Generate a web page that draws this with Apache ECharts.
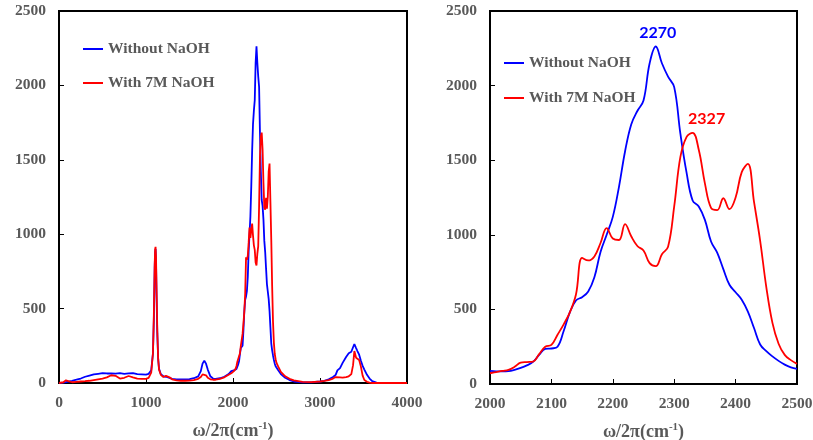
<!DOCTYPE html>
<html><head><meta charset="utf-8">
<script src="https://cdn.jsdelivr.net/npm/echarts@6/dist/echarts.min.js"></script>
<style>html,body{margin:0;padding:0;background:#fff}#c{width:813px;height:440px}</style>
</head><body><div id="c"></div>
<script>
// ---- data ----
const seriesNames = ['Without NaOH', 'With 7M NaOH'];
const peakLabels = ['2270', '2327'];
const xTicksLeft = [0, 1000, 2000, 3000, 4000];
const xTicksRight = [2000, 2100, 2200, 2300, 2400, 2500];
const yTicks = [0, 500, 1000, 1500, 2000, 2500];

const waveLow = [0,50,80,100,150,200,250,300,350,400,450,500,520,550,600,650,700,720,750,800,850,900,950,1000,1030,1060,1080,1090,1100,1105,1110,1115,1120,1130,1140,1150,1170,1200,1230,1250,1270,1300,1350,1400,1450,1500,1550,1600,1630,1650,1670,1690,1710,1740,1770,1800,1850,1900,1950,1980];
const blueLow = [0,3,6,8,15,22,30,42,50,58,62,66,72,64,65,63,66,72,62,64,66,60,58,56,62,85,200,420,780,880,900,820,620,330,160,95,60,45,42,45,35,28,25,24,24,26,32,45,80,130,150,130,90,45,30,28,32,42,60,80];
const redLow  = [0,5,18,6,5,8,10,12,15,20,25,30,32,38,52,48,30,28,35,47,38,30,28,28,35,70,200,450,800,900,915,850,680,350,160,90,55,40,48,58,38,25,18,15,15,16,20,28,40,58,65,52,35,25,22,22,28,38,55,65];

const waveZoom = [2000,2010,2020,2030,2040,2050,2060,2070,2080,2090,2100,2110,2120,2130,2140,2150,2160,2170,2180,2190,2200,2210,2220,2230,2240,2250,2260,2270,2280,2290,2300,2310,2320,2330,2340,2350,2360,2370,2380,2390,2400,2410,2420,2430,2440,2450,2460,2470,2480,2490,2500];
const blueZoom = [88,85,84,86,95,108,125,148,195,235,238,250,355,480,560,582,620,715,885,1000,1120,1320,1560,1740,1830,1900,2150,2262,2150,2060,1990,1680,1420,1230,1190,1100,955,880,770,665,615,565,485,375,265,220,185,155,130,112,102];
const redZoom  = [72,80,88,95,115,143,147,150,200,250,262,330,400,480,600,845,828,855,945,1045,975,965,1072,990,925,895,810,790,870,920,1190,1520,1655,1683,1570,1345,1180,1165,1245,1172,1250,1420,1475,1220,960,650,410,270,195,160,135];

const waveHigh = [2520,2550,2600,2650,2700,2800,2900,3000,3050,3100,3150,3180,3200,3230,3260,3300,3330,3360,3380,3395,3405,3415,3430,3450,3470,3490,3510,3540,3570,3600,3650,3700,3800,3900,4000];
const blueHigh = [85,60,35,20,10,4,4,10,15,25,40,55,85,100,135,175,200,210,240,262,272,235,215,190,150,115,90,55,30,12,3,0,0,0,0];
const redHigh  = [110,75,45,28,18,8,6,10,14,20,30,40,45,38,36,40,45,60,120,215,220,170,165,155,110,50,20,8,3,0,0,0,0,0,0];

// ---- build ----
const pairs = (xs, ys) => xs.map((x, i) => [x, ys[i]]);
const blueFull = pairs(waveLow, blueLow).concat(pairs(waveZoom, blueZoom), pairs(waveHigh, blueHigh));
const redFull = pairs(waveLow, redLow).concat(pairs(waveZoom, redZoom), pairs(waveHigh, redHigh));
const peakOf = (ys) => { let k = 0; ys.forEach((v, i) => { if (v > ys[k]) k = i; }); return [waveZoom[k], ys[k]]; };
const bluePeak = peakOf(blueZoom), redPeak = peakOf(redZoom);

const SERIF = '"Liberation Serif","Times New Roman",serif';
const GREY = '#595959';
const BLUE = '#0000ff', RED = '#ff0000';
const plain = (v) => String(v);

const axisLabel = { color: GREY, fontFamily: SERIF, fontWeight: 'bold', fontSize: 15.5, formatter: plain };
const nameStyle = {
  color: GREY, fontFamily: SERIF, fontWeight: 'bold', fontSize: 18,
  rich: { sup: { color: GREY, fontFamily: SERIF, fontWeight: 'bold', fontSize: 11, verticalAlign: 'top', padding: [0, 0, 9, 0] } }
};
const axisCommon = {
  axisLine: { show: true, onZero: false, lineStyle: { color: '#000', width: 2 } },
  axisTick: { show: true, inside: true, length: 5, lineStyle: { color: '#000', width: 1 } },
  splitLine: { show: false }
};
const legendText = { color: GREY, fontFamily: SERIF, fontWeight: 'bold', fontSize: 15.5, lineHeight: 14 };

const chart = echarts.init(document.getElementById('c'), null, { renderer: 'canvas' });
chart.setOption({
  backgroundColor: '#fff',
  animation: false,
  grid: [
    { left: 59, top: 11, width: 348, height: 372, show: true, borderColor: '#000', borderWidth: 2, containLabel: false, outerBoundsMode: 'none' },
    { left: 490, top: 11, width: 307, height: 373, show: true, borderColor: '#000', borderWidth: 2, containLabel: false, outerBoundsMode: 'none' }
  ],
  legend: [
    { left: 78, top: 36, orient: 'vertical', icon: 'rect', itemWidth: 20, itemHeight: 2, itemGap: 18, data: seriesNames, textStyle: legendText },
    { left: 499, top: 50, orient: 'vertical', icon: 'rect', itemWidth: 20, itemHeight: 2, itemGap: 19, data: seriesNames, textStyle: legendText }
  ],
  xAxis: [
    Object.assign({ gridIndex: 0, type: 'value', min: xTicksLeft[0], max: xTicksLeft[xTicksLeft.length - 1], interval: 1000,
      axisLabel: Object.assign({ margin: 12 }, axisLabel),
      name: 'ω/2π(cm{sup|-1})', nameLocation: 'middle', nameGap: 38, nameTextStyle: nameStyle }, axisCommon),
    Object.assign({ gridIndex: 1, type: 'value', min: xTicksRight[0], max: xTicksRight[xTicksRight.length - 1], interval: 100,
      axisLabel: Object.assign({ margin: 12 }, axisLabel),
      name: 'ω/2π(cm{sup|-1})', nameLocation: 'middle', nameGap: 38, nameTextStyle: nameStyle }, axisCommon)
  ],
  yAxis: [
    Object.assign({ gridIndex: 0, type: 'value', min: yTicks[0], max: yTicks[yTicks.length - 1], interval: 500,
      axisLabel: Object.assign({ margin: 13 }, axisLabel) }, axisCommon),
    Object.assign({ gridIndex: 1, type: 'value', min: yTicks[0], max: yTicks[yTicks.length - 1], interval: 500,
      axisLabel: Object.assign({ margin: 13 }, axisLabel) }, axisCommon)
  ],
  series: [
    { name: seriesNames[0], type: 'line', xAxisIndex: 0, yAxisIndex: 0, data: blueFull, showSymbol: false, symbol: 'none',
      lineStyle: { color: BLUE, width: 1.8 }, itemStyle: { color: BLUE }, z: 3 },
    { name: seriesNames[1], type: 'line', xAxisIndex: 0, yAxisIndex: 0, data: redFull, showSymbol: false, symbol: 'none',
      lineStyle: { color: RED, width: 1.8 }, itemStyle: { color: RED }, z: 4 },
    { name: seriesNames[0], type: 'line', xAxisIndex: 1, yAxisIndex: 1, data: pairs(waveZoom, blueZoom), smooth: 0.4,
      showSymbol: false, symbol: 'none', lineStyle: { color: BLUE, width: 1.8 }, itemStyle: { color: BLUE },
      markPoint: { symbol: 'circle', symbolSize: 1, itemStyle: { color: 'rgba(0,0,0,0)' },
        label: { show: true, position: 'top', distance: 5, offset: [2, 0], color: BLUE, fontFamily: 'Lato,"Open Sans",sans-serif', fontWeight: 'bold', fontSize: 16, formatter: peakLabels[0] },
        data: [{ coord: bluePeak }] } },
    { name: seriesNames[1], type: 'line', xAxisIndex: 1, yAxisIndex: 1, data: pairs(waveZoom, redZoom), smooth: 0.4,
      showSymbol: false, symbol: 'none', lineStyle: { color: RED, width: 1.8 }, itemStyle: { color: RED },
      markPoint: { symbol: 'circle', symbolSize: 1, itemStyle: { color: 'rgba(0,0,0,0)' },
        label: { show: true, position: 'top', distance: 6, offset: [14, 0], color: RED, fontFamily: 'Lato,"Open Sans",sans-serif', fontWeight: 'bold', fontSize: 16, formatter: peakLabels[1] },
        data: [{ coord: redPeak }] } }
  ]
});
</script>
</body></html>
